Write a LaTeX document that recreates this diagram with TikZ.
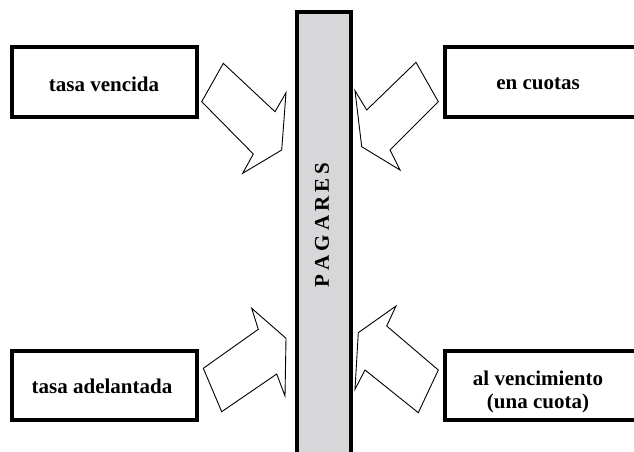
\documentclass[tikz,border=0pt]{standalone}
\usepackage{fontspec}
\setmainfont{Liberation Serif}
\definecolor{bargray}{RGB}{215,215,217}
\tikzset{
  box/.style={draw=black, line width=4pt, fill=white, inner sep=0pt, minimum height=70pt},
  lbl/.style={font=\bfseries\fontsize{21}{23.5}\selectfont, align=center, inner sep=0pt},
  blockarrow/.style={draw=black, line width=0.9pt, fill=white, line join=miter},
  bar/.style={draw=black, line width=4pt, fill=bargray}
}
\begin{document}
\begin{tikzpicture}[x=1pt,y=-1pt]
\useasboundingbox (0,0) rectangle (634,452);
\clip (0,0) rectangle (634,452);
% central bar
\path[bar] (297,12) -- (297,470) -- (351,470) -- (351,12) -- cycle;
\node[rotate=90, font=\bfseries\fontsize{21}{23}\selectfont, inner sep=0pt] (pag) at (322,225)
  {P\hspace{4pt}A\hspace{4pt}G\hspace{4pt}A\hspace{4pt}R\hspace{4pt}E\hspace{4pt}S};
% boxes
\node[box, minimum width=185pt] (b1) at (104.5,82) {};
\node[lbl] (t1) at (104,84) {tasa vencida};
\node[box, minimum width=200pt] (b2) at (545,82) {};
\node[lbl] (t2) at (538,84) {en cuotas};
\node[box, minimum width=185pt, minimum height=69pt] (b3) at (104.5,385.5) {};
\node[lbl] (t3) at (102,386) {tasa adelantada};
\node[box, minimum width=200pt, minimum height=69pt] (b4) at (545,385.5) {};
\node[lbl] (t4) at (538,392) {al vencimiento\\(una cuota)};
% block arrows
\draw[blockarrow] (201.7,101.7) -- (223.3,63.3) -- (275,111.7) -- (286,92.7) -- (281.7,150) -- (242.7,173.3) -- (253.3,154) -- cycle;
\draw[blockarrow] (438.3,101.7) -- (416,62.3) -- (366.7,110) -- (355,90.7) -- (361.7,146.7) -- (400,170) -- (390,150) -- cycle;
\draw[blockarrow] (203.3,368.3) -- (221.7,411.7) -- (276.7,374) -- (285,396) -- (286,338.3) -- (251.7,308.3) -- (258.3,329.3) -- cycle;
\draw[blockarrow] (438.3,370) -- (418.3,412.7) -- (365,370) -- (355,389.3) -- (358.3,332.7) -- (396,306) -- (386.7,326) -- cycle;
\end{tikzpicture}
\end{document}
